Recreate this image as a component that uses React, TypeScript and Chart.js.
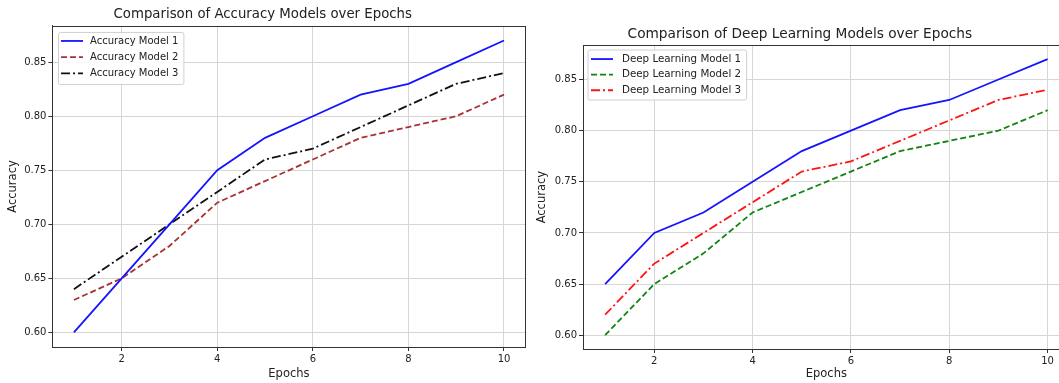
import React, { useEffect, useRef } from "react";
import { Chart, registerables } from "chart.js";

Chart.register(...registerables);

const epochs = [1, 2, 3, 4, 5, 6, 7, 8, 9, 10];
const accModel1 = [0.6, 0.65, 0.7, 0.75, 0.78, 0.8, 0.82, 0.83, 0.85, 0.87];
const accModel2 = [0.63, 0.65, 0.68, 0.72, 0.74, 0.76, 0.78, 0.79, 0.8, 0.82];
const accModel3 = [0.64, 0.67, 0.7, 0.73, 0.76, 0.77, 0.79, 0.81, 0.83, 0.84];
const dlModel1 = [0.65, 0.7, 0.72, 0.75, 0.78, 0.8, 0.82, 0.83, 0.85, 0.87];
const dlModel2 = [0.6, 0.65, 0.68, 0.72, 0.74, 0.76, 0.78, 0.79, 0.8, 0.82];
const dlModel3 = [0.62, 0.67, 0.7, 0.73, 0.76, 0.77, 0.79, 0.81, 0.83, 0.84];
const xTicks = [2, 4, 6, 8, 10];
const yTicks = [0.6, 0.65, 0.7, 0.75, 0.8, 0.85];

const FONT = "'DejaVu Sans', sans-serif";

const framePlugin = {
  id: "frame",
  afterDatasetsDraw(chart: any) {
    const { ctx, chartArea } = chart;
    ctx.save();
    ctx.strokeStyle = "#333";
    ctx.lineWidth = 1;
    ctx.strokeRect(
      Math.round(chartArea.left) + 0.5,
      Math.round(chartArea.top) + 0.5,
      Math.round(chartArea.right - chartArea.left),
      Math.round(chartArea.bottom - chartArea.top)
    );
    ctx.restore();
  },
};

const legendPlugin = {
  id: "mplLegend",
  afterDraw(chart: any, _args: any, opts: any) {
    const { ctx, chartArea } = chart;
    const ds = chart.data.datasets;
    ctx.save();
    ctx.font = `${opts.fontSize}px ${FONT}`;
    let maxW = 0;
    ds.forEach((d: any) => {
      maxW = Math.max(maxW, ctx.measureText(d.label).width);
    });
    const bx = chartArea.left + opts.x;
    const by = chartArea.top + opts.y;
    const bw = opts.textStart + maxW + opts.padRight;
    const bh = opts.padTop + opts.rowHeight * (ds.length - 1) + opts.padBottom;
    ctx.fillStyle = "rgba(255,255,255,0.85)";
    ctx.strokeStyle = "#d0d0d0";
    ctx.lineWidth = 1;
    ctx.beginPath();
    (ctx as any).roundRect(bx + 0.5, by + 0.5, bw, bh, 2);
    ctx.fill();
    ctx.stroke();
    ds.forEach((d: any, i: number) => {
      const y = by + opts.padTop + i * opts.rowHeight;
      ctx.strokeStyle = d.borderColor;
      ctx.lineWidth = d.borderWidth;
      ctx.setLineDash(d.borderDash || []);
      ctx.beginPath();
      ctx.moveTo(bx + opts.lineStart, y);
      ctx.lineTo(bx + opts.lineStart + opts.lineLen, y);
      ctx.stroke();
      ctx.setLineDash([]);
      ctx.fillStyle = "#222";
      ctx.textBaseline = "middle";
      ctx.textAlign = "left";
      ctx.fillText(d.label, bx + opts.textStart, y);
    });
    ctx.restore();
  },
};

type Series = { label: string; values: number[]; color: string; dash: number[] };

type PanelProps = {
  title: string;
  series: Series[];
  width: number;
  height: number;
  titleSize: number;
  titlePadTop: number;
  titlePadBottom: number;
  yAxisWidth: number;
  xAxisHeight: number;
  padRight: number;
  yTitlePad: number;
  xTitlePad: number;
  legend: any;
};

function Panel(p: PanelProps) {
  const ref = useRef<HTMLCanvasElement>(null);
  useEffect(() => {
    if (!ref.current) return;
    const chart = new Chart(ref.current, {
      type: "line",
      data: {
        datasets: p.series.map((s) => ({
          label: s.label,
          data: epochs.map((e, i) => ({ x: e, y: s.values[i] })),
          borderColor: s.color,
          backgroundColor: s.color,
          borderWidth: 1.8,
          borderDash: s.dash,
          pointRadius: 0,
          tension: 0,
          fill: false,
        })),
      },
      options: {
        animation: false,
        responsive: false,
        devicePixelRatio: 1,
        layout: { padding: { top: 0, left: 0, right: p.padRight, bottom: 0 } },
        plugins: {
          legend: { display: false },
          tooltip: { enabled: false },
          title: {
            display: true,
            text: p.title,
            color: "#222",
            font: { family: FONT, size: p.titleSize, weight: "normal" as any, lineHeight: 1.2 },
            padding: { top: p.titlePadTop, bottom: p.titlePadBottom },
          },
          mplLegend: p.legend,
        } as any,
        scales: {
          x: {
            type: "linear",
            min: 0.55,
            max: 10.45,
            afterBuildTicks: (s: any) => {
              s.ticks = xTicks.map((v) => ({ value: v }));
            },
            afterFit: (s: any) => {
              s.height = p.xAxisHeight;
            },
            ticks: {
              callback: (v: any) => String(v),
              color: "#222",
              font: { family: FONT, size: 10 },
              padding: 2,
              maxRotation: 0,
              autoSkip: false,
            },
            grid: { color: "#d6d6d6", lineWidth: 1, tickColor: "#333", tickLength: 4 },
            border: { display: true, color: "#333" },
            title: {
              display: true,
              text: "Epochs",
              color: "#222",
              font: { family: FONT, size: 11.5, lineHeight: 1.2 },
              padding: { top: 0, bottom: p.xTitlePad },
            },
          },
          y: {
            type: "linear",
            min: 0.5865,
            max: 0.8835,
            afterBuildTicks: (s: any) => {
              s.ticks = yTicks.map((v) => ({ value: v }));
            },
            afterFit: (s: any) => {
              s.width = p.yAxisWidth;
            },
            ticks: {
              callback: (v: any) => Number(v).toFixed(2),
              color: "#222",
              font: { family: FONT, size: 10 },
              padding: 2,
              autoSkip: false,
            },
            grid: { color: "#d6d6d6", lineWidth: 1, tickColor: "#333", tickLength: 4 },
            border: { display: true, color: "#333" },
            title: {
              display: true,
              text: "Accuracy",
              color: "#222",
              font: { family: FONT, size: 11.5, lineHeight: 1.2 },
              padding: { top: p.yTitlePad, bottom: 0 },
            },
          },
        },
      } as any,
      plugins: [framePlugin, legendPlugin],
    });
    return () => chart.destroy();
  }, []);
  return (
    <canvas
      ref={ref}
      width={p.width}
      height={p.height}
      style={{ width: p.width, height: p.height, display: "block" }}
    />
  );
}

export default function App() {
  const leftSeries: Series[] = [
    { label: "Accuracy Model 1", values: accModel1, color: "#1414ff", dash: [] },
    { label: "Accuracy Model 2", values: accModel2, color: "#a83232", dash: [6, 3] },
    { label: "Accuracy Model 3", values: accModel3, color: "#111111", dash: [9, 3, 2, 3] },
  ];
  const rightSeries: Series[] = [
    { label: "Deep Learning Model 1", values: dlModel1, color: "#1414ff", dash: [] },
    { label: "Deep Learning Model 2", values: dlModel2, color: "#128412", dash: [6, 3] },
    { label: "Deep Learning Model 3", values: dlModel3, color: "#ff1414", dash: [9, 3, 2, 3] },
  ];
  return (
    <div
      style={{
        position: "absolute",
        left: 0,
        top: 0,
        width: 1059,
        height: 383,
        overflow: "hidden",
        background: "#fff",
      }}
    >
      <div style={{ position: "absolute", left: 0, top: 0 }}>
        <Panel
          title="Comparison of Accuracy Models over Epochs"
          series={leftSeries}
          width={530}
          height={383}
          titleSize={13.3}
          titlePadTop={7}
          titlePadBottom={3}
          yAxisWidth={52.4}
          xAxisHeight={36}
          padRight={4.5}
          yTitlePad={6.6}
          xTitlePad={2.1}
          legend={{
            x: 5.6,
            y: 6,
            padTop: 9,
            padBottom: 10.7,
            rowHeight: 16.2,
            lineStart: 3,
            lineLen: 22,
            textStart: 32,
            padRight: 5,
            fontSize: 10,
          }}
        />
      </div>
      <div style={{ position: "absolute", left: 530, top: 0 }}>
        <Panel
          title="Comparison of Deep Learning Models over Epochs"
          series={rightSeries}
          width={545}
          height={383}
          titleSize={13.7}
          titlePadTop={26}
          titlePadBottom={2.8}
          yAxisWidth={53}
          xAxisHeight={34}
          padRight={5.3}
          yTitlePad={5.1}
          xTitlePad={2.1}
          legend={{
            x: 4.5,
            y: 4.3,
            padTop: 9.5,
            padBottom: 9.3,
            rowHeight: 15.6,
            lineStart: 3.5,
            lineLen: 22,
            textStart: 34.5,
            padRight: 5,
            fontSize: 10.3,
          }}
        />
      </div>
    </div>
  );
}
